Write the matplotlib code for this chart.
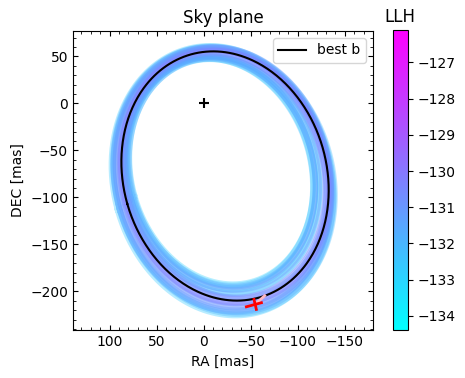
import numpy as np
import matplotlib
matplotlib.use("Agg")
from matplotlib import pyplot as plt
from matplotlib import cm, colors

########################################  DATA  ##############################################################

# best orbit projected on the sky (ellipse: centre, semi axes, rotation in deg) and its likelihood
best_cx, best_cy = -22.7, -77.2
best_sx, best_sy = 108.1, 134.3
best_ang = -15.8
best_llh = -126.1

# sample orbits, offsets from the best one + their likelihood
samp_dcx = [0.5, 1.0, 1.5, 2.0, 2.5, 1.0, 2.0, 3.0, 4.0, 5.0, 0.5, 1.5, 3.5, 4.5, 2.0, 1.0, 3.0, -1.0, 0.0, 2.5, 4.0]
samp_dcy = [-1.0, -2.0, -3.0, -4.0, -5.0, 1.0, 2.0, 3.0, 3.5, 4.0, -0.5, 0.5, 1.5, 2.5, -2.5, -4.5, 3.5, 1.0, -1.5, -3.5, 4.5]
samp_dsx = [1.5, 3.0, 5.0, 6.5, 8.0, -2.5, -5.0, -7.5, -10.0, -12.0, 0.5, -1.0, -6.0, -9.0, 4.0, 7.5, -11.0, 2.0, -3.0, 6.0, -12.5]
samp_dsy = [2.0, 4.5, 7.0, 9.0, 11.0, -2.5, -5.0, -8.0, -10.0, -12.0, 1.0, -1.0, -6.5, -9.5, 5.5, 10.0, -11.5, 3.0, -4.0, 8.0, -13.0]
samp_dang = [0.5, -0.5, 1.0, -1.0, 0.5, -0.5, 1.0, -1.0, 0.5, -0.5, 1.5, -1.5, 0.0, 1.0, -1.0, 0.0, 0.5, 2.0, -2.0, 1.5, 0.0]
samp_llh = [-130.4, -130.9, -131.2, -131.6, -132.7, -130.6, -130.8, -131.3, -131.9, -132.3, -130.2, -130.5, -134.39, -131.7, -131.1, -132.1, -131.5, -130.7, -131.4, -131.5, -132.9]

# measurement on the sky plane
err_a = [[-45.4, -61.4], [-216.3, -212.0]]
err_b = [[-53.5, -56.0], [-208.5, -219.1]]
link = [[-54.3, -64.9], [-214.1, -204.5]]

########################################  HELPERS  ###########################################################

def ellipse_xy(cx, cy, sx, sy, ang):
    t = np.linspace(0, 2 * np.pi, 500)
    a = np.radians(ang)
    u = sx * np.cos(t)
    v = sy * np.sin(t)
    return cx + u * np.cos(a) - v * np.sin(a), cy + u * np.sin(a) + v * np.cos(a)

########################################  PLOT  ##############################################################

fig = plt.figure(figsize=(4.65, 3.78), dpi=100)
ax = fig.add_axes([0.157, 0.127, 0.645, 0.791])
cax = fig.add_axes([0.845, 0.127, 0.032, 0.794])

norm = colors.Normalize(vmin=min(samp_llh + [best_llh]), vmax=max(samp_llh + [best_llh]))
cmap = plt.get_cmap("cool")

order = np.argsort(samp_llh)
for i in order:
    x, y = ellipse_xy(best_cx + samp_dcx[i], best_cy + samp_dcy[i],
                      best_sx + samp_dsx[i], best_sy + samp_dsy[i], best_ang + samp_dang[i])
    ax.plot(x, y, color=cmap(norm(samp_llh[i])), lw=4, alpha=0.35)

x, y = ellipse_xy(best_cx, best_cy, best_sx, best_sy, best_ang)
ax.plot(x, y, color="black", lw=1.5, label="best b")

ax.plot(0, 0, "k+", ms=7, mew=1.5)
ax.plot(link[0], link[1], color="lightpink", lw=2)
ax.plot(err_a[0], err_a[1], color="red", lw=2)
ax.plot(err_b[0], err_b[1], color="red", lw=2)

ax.set_xlim(139, -180)
ax.set_ylim(-241, 77)
ax.set_xlabel("RA [mas]")
ax.set_ylabel("DEC [mas]")
ax.set_title("Sky plane")
ax.minorticks_on()
ax.tick_params(which="both", direction="in", top=True, right=True)
ax.legend(loc="upper right")

sm = cm.ScalarMappable(norm=norm, cmap=cmap)
cb = fig.colorbar(sm, cax=cax)
cax.set_title("LLH")

fig.savefig("out.png", dpi=100)
